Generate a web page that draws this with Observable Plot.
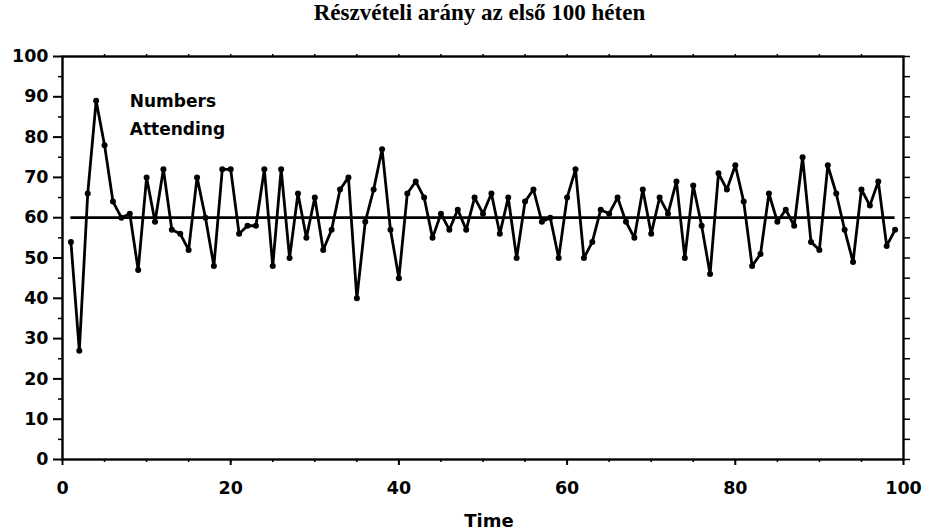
<!DOCTYPE html>
<html><head><meta charset="utf-8">
<script src="https://cdn.jsdelivr.net/npm/d3@7"></script>
<script src="https://cdn.jsdelivr.net/npm/@observablehq/plot@0.6"></script>
<style>
body{margin:0;background:#fff;}
#title{height:34px;line-height:37px;text-align:center;font:bold 23px "Liberation Serif","Times New Roman",serif;padding-left:30px;color:#000;white-space:nowrap;}
</style></head><body>
<div id="title">Részvételi arány az első 100 héten</div>
<div id="chart"></div>
<script>
const weeks = d3.range(1, 100);
const attendance = [
  54,27,66,89,78,64,60,61,47,70,
  59,72,57,56,52,70,60,48,72,72,
  56,58,58,72,48,72,50,66,55,65,
  52,57,67,70,40,59,67,77,57,45,
  66,69,65,55,61,57,62,57,65,61,
  66,56,65,50,64,67,59,60,50,65,
  72,50,54,62,61,65,59,55,67,56,
  65,61,69,50,68,58,46,71,67,73,
  64,48,51,66,59,62,58,75,54,52,
  73,66,57,49,67,63,69,53,57
];
const meanLevel = 60;
const xTicks = [0, 20, 40, 60, 80, 100];
const yTicks = [0, 10, 20, 30, 40, 50, 60, 70, 80, 90, 100];
const seriesLabel = "Numbers\nAttending";
const xLabel = "Time";

const data = weeks.map((w, i) => ({week: w, n: attendance[i]}));
const none = () => "";

const chart = Plot.plot({
  width: 929, height: 497,
  marginTop: 22, marginBottom: 72, marginLeft: 62, marginRight: 26,
  x: {domain: [0, 100]},
  y: {domain: [0, 100]},
  style: {fontFamily: "'DejaVu Sans', sans-serif", fontWeight: "bold", fontSize: "17.5px", color: "black", background: "white", overflow: "visible"},
  marks: [
    Plot.axisY({ticks: yTicks, tickSize: 9, tickPadding: 5, label: null, strokeWidth: 2}),
    Plot.axisY({ticks: d3.range(5, 100, 10), tickSize: 4, tickFormat: none, label: null, strokeWidth: 1.5}),
    Plot.axisY({anchor: "right", ticks: d3.range(0, 101, 5), tickSize: 6, tickFormat: none, label: null, strokeWidth: 1.5}),
    Plot.axisX({ticks: xTicks, tickSize: 6, tickPadding: 16, label: null, strokeWidth: 2}),
    Plot.axisX({ticks: d3.range(5, 100, 5), tickSize: 3, tickFormat: none, label: null, strokeWidth: 1.5}),
    Plot.axisX({anchor: "top", ticks: d3.range(5, 100, 5), tickSize: 3, tickFormat: none, label: null, strokeWidth: 1.5}),
    Plot.frame({stroke: "black", strokeWidth: 2.4}),
    Plot.ruleY([meanLevel], {x1: 1, x2: 99, stroke: "black", strokeWidth: 2.8}),
    Plot.line(data, {x: "week", y: "n", stroke: "black", strokeWidth: 2.8}),
    Plot.dot(data, {x: "week", y: "n", r: 3, fill: "black", stroke: "none"}),
    Plot.text([seriesLabel], {x: 8, y: 86.2, text: d => d, textAnchor: "start", lineAnchor: "middle", lineHeight: 1.62, fontSize: 17, fontWeight: "bold", fill: "black"}),
    Plot.text([xLabel], {frameAnchor: "bottom", dy: 67, dx: 6, text: d => d, fontSize: 18, fontWeight: "bold", fill: "black"})
  ]
});
document.getElementById("chart").appendChild(chart);
</script>
</body></html>
